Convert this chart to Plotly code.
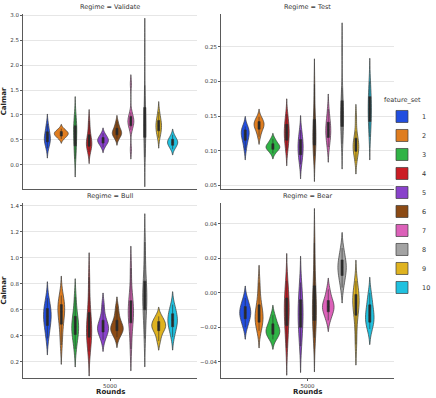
import plotly.graph_objects as go
from plotly.subplots import make_subplots

# feature sets (hue) and their colours (seaborn "bright", desaturated)
feature_sets = ["1", "2", "3", "4", "5", "6", "7", "8", "9", "10"]
colors = ["#224edf", "#df7d20", "#30b346", "#cb1d25", "#8942cb",
          "#8b4a14", "#dc61b9", "#a3a3a3", "#dfb320", "#20c1df"]
regimes = ["Validate", "Test", "Bull", "Bear"]
rounds = "5000"

# Calmar samples per feature set, one list per regime
validate = [
    [0.33, 0.41, 0.46, 0.49, 0.52, 0.55, 0.60, 0.66, 0.72, 0.82],
    [0.515, 0.555, 0.575, 0.60, 0.615, 0.63, 0.645, 0.665, 0.685, 0.725],
    [0.12, 0.30, 0.38, 0.45, 0.62, 0.68, 0.72, 0.78, 0.88, 1.00],
    [0.25, 0.33, 0.37, 0.41, 0.44, 0.47, 0.52, 0.60, 0.72, 0.88],
    [0.35, 0.405, 0.435, 0.46, 0.48, 0.50, 0.52, 0.545, 0.575, 0.63],
    [0.52, 0.57, 0.60, 0.62, 0.64, 0.66, 0.69, 0.73, 0.78, 0.86],
    [0.30, 0.70, 0.78, 0.83, 0.86, 0.88, 0.92, 0.97, 1.05, 1.62],
    [0.15, 0.35, 0.55, 0.65, 0.75, 0.85, 1.00, 1.15, 1.60, 2.35],
    [0.54, 0.62, 0.68, 0.72, 0.76, 0.80, 0.84, 0.89, 0.95, 1.06],
    [0.31, 0.36, 0.39, 0.42, 0.44, 0.46, 0.48, 0.51, 0.54, 0.60],
]
test = [
    [0.101, 0.110, 0.115, 0.119, 0.122, 0.125, 0.127, 0.130, 0.133, 0.135],
    [0.120, 0.127, 0.131, 0.134, 0.136, 0.138, 0.140, 0.142, 0.145, 0.149],
    [0.096, 0.100, 0.102, 0.104, 0.105, 0.106, 0.108, 0.110, 0.113, 0.117],
    [0.100, 0.108, 0.115, 0.120, 0.124, 0.128, 0.133, 0.138, 0.144, 0.153],
    [0.080, 0.088, 0.094, 0.099, 0.103, 0.107, 0.111, 0.116, 0.122, 0.130],
    [0.092, 0.100, 0.108, 0.115, 0.122, 0.128, 0.135, 0.145, 0.165, 0.196],
    [0.105, 0.113, 0.119, 0.124, 0.128, 0.132, 0.136, 0.141, 0.148, 0.160],
    [0.110, 0.120, 0.135, 0.142, 0.148, 0.153, 0.160, 0.172, 0.190, 0.248],
    [0.085, 0.094, 0.099, 0.103, 0.106, 0.109, 0.113, 0.118, 0.128, 0.148],
    [0.120, 0.132, 0.142, 0.150, 0.157, 0.163, 0.170, 0.178, 0.188, 0.200],
]
bull = [
    [0.38, 0.44, 0.48, 0.51, 0.54, 0.56, 0.58, 0.61, 0.64, 0.69],
    [0.33, 0.42, 0.49, 0.54, 0.57, 0.60, 0.62, 0.64, 0.67, 0.71],
    [0.30, 0.37, 0.41, 0.44, 0.46, 0.48, 0.51, 0.55, 0.60, 0.70],
    [0.28, 0.35, 0.39, 0.42, 0.45, 0.48, 0.52, 0.58, 0.68, 0.85],
    [0.37, 0.41, 0.43, 0.45, 0.46, 0.47, 0.49, 0.52, 0.56, 0.64],
    [0.39, 0.42, 0.44, 0.45, 0.46, 0.47, 0.49, 0.52, 0.56, 0.62],
    [0.30, 0.42, 0.50, 0.54, 0.57, 0.60, 0.63, 0.67, 0.75, 0.92],
    [0.38, 0.50, 0.60, 0.65, 0.69, 0.72, 0.76, 0.82, 0.95, 1.12],
    [0.36, 0.41, 0.44, 0.46, 0.47, 0.48, 0.49, 0.51, 0.53, 0.55],
    [0.39, 0.44, 0.47, 0.49, 0.51, 0.53, 0.55, 0.57, 0.60, 0.64],
]
bear = [
    [-0.020, -0.017, -0.015, -0.0135, -0.012, -0.011, -0.0095, -0.008, -0.006, -0.003],
    [-0.022, -0.019, -0.017, -0.015, -0.014, -0.012, -0.010, -0.007, -0.002, 0.006],
    [-0.027, -0.025, -0.024, -0.023, -0.022, -0.021, -0.020, -0.018, -0.016, -0.013],
    [-0.032, -0.024, -0.019, -0.015, -0.012, -0.009, -0.006, -0.003, 0.001, 0.007],
    [-0.031, -0.025, -0.020, -0.016, -0.014, -0.011, -0.008, -0.004, 0.000, 0.006],
    [-0.026, -0.020, -0.016, -0.012, -0.009, -0.006, -0.002, 0.004, 0.015, 0.029],
    [-0.016, -0.013, -0.011, -0.0095, -0.0085, -0.0075, -0.006, -0.0045, -0.002, 0.002],
    [0.003, 0.007, 0.010, 0.012, 0.014, 0.0155, 0.017, 0.019, 0.022, 0.026],
    [-0.030, -0.020, -0.013, -0.009, -0.007, -0.005, -0.003, -0.001, 0.002, 0.007],
    [-0.021, -0.019, -0.017, -0.015, -0.014, -0.012, -0.010, -0.007, -0.004, 0.000],
]
panels = [validate, test, bull, bear]

W, H = 436, 398
fig = make_subplots(rows=2, cols=2)

for p, (regime, data) in enumerate(zip(regimes, panels)):
    row, col = p // 2 + 1, p % 2 + 1
    for i, fs in enumerate(feature_sets):
        fig.add_trace(go.Violin(
            x=[rounds] * len(data[i]), y=data[i], name=fs,
            legendgroup=fs, showlegend=(p == 0),
            alignmentgroup=regime, offsetgroup=fs,
            scalegroup=regime, scalemode="width",
            fillcolor=colors[i], opacity=1,
            line=dict(color="#3c3c3c", width=0.7),
            points=False, spanmode="soft",
            box=dict(visible=True, width=0.15, fillcolor="#2b2b2b",
                     line=dict(color="#2b2b2b", width=0.6)),
            meanline=dict(visible=False),
            hoveron="violins",
        ), row=row, col=col)

# panel placement (pixels -> paper)
xdom = [(23 / W, 197 / W), (221 / W, 394 / W)]
ydom = [(1 - 188 / H, 1 - 12 / H), (1 - 378 / H, 1 - 202 / H)]
yranges = [[-0.49, 3.03], [0.0445, 0.2975], [0.076, 1.42], [-0.0494, 0.052]]
ydticks = [0.5, 0.05, 0.2, 0.02]

axis_style = dict(showline=True, linecolor="#5a5a5a", linewidth=1,
                  ticks="outside", ticklen=2, tickcolor="#5a5a5a", tickwidth=0.8,
                  tickfont=dict(size=5.5, color="#3a3a3a"), zeroline=False)

for p in range(4):
    r, c = p // 2, p % 2
    xa = "xaxis" if p == 0 else f"xaxis{p + 1}"
    ya = "yaxis" if p == 0 else f"yaxis{p + 1}"
    fig.layout[xa].update(
        domain=xdom[c], type="category", range=[-0.5, 0.5],
        showgrid=False, showticklabels=(r == 1), **axis_style,
    )
    if r == 0:
        fig.layout[xa].update(ticks="")
    else:
        fig.add_annotation(
            text="<b>Rounds</b>", showarrow=False,
            x=sum(xdom[c]) / 2, y=1 - 392 / H, xref="paper", yref="paper",
            xanchor="center", yanchor="middle", font=dict(size=7, color="#222"),
        )
    fig.layout[ya].update(
        domain=ydom[r], range=yranges[p], dtick=ydticks[p],
        showgrid=True, gridcolor="#e6e6e6", gridwidth=0.8,
        tickformat=".2f" if c == 1 else ".1f", **axis_style,
    )
    if c == 0:
        fig.layout[ya].update(
            title=dict(text="<b>Calmar</b>", font=dict(size=7, color="#222"), standoff=4))

    fig.add_annotation(
        text=f"Regime = {regimes[p]}", showarrow=False,
        x=sum(xdom[c]) / 2, y=ydom[r][1], xref="paper", yref="paper",
        xanchor="center", yanchor="bottom", yshift=1,
        font=dict(size=6.5, color="#333"),
    )

fig.update_layout(
    width=W, height=H, margin=dict(l=0, r=0, t=0, b=0),
    paper_bgcolor="white", plot_bgcolor="white",
    font=dict(family="DejaVu Sans", color="#333"),
    violinmode="group", violingap=0.2, violingroupgap=0,
    legend=dict(
        title=dict(text="feature_set", font=dict(size=6.5)),
        font=dict(size=6.5), x=1, xanchor="right", y=0.505, yanchor="middle",
        itemwidth=30, tracegroupgap=0, bgcolor="rgba(0,0,0,0)",
    ),
)

# the page body has a default 8px margin; drop it so the figure sits at (0, 0)
fig.write_html("out.html", config={"displayModeBar": False},
               post_script="document.body.style.margin = '0';")
